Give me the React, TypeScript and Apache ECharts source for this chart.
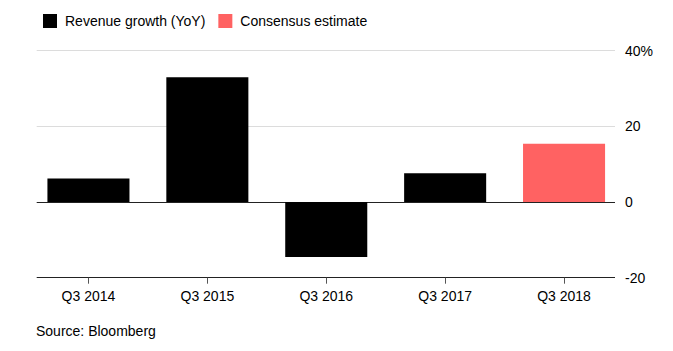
import React, { useEffect, useRef } from "react";
import * as echarts from "echarts";

const categories = ["Q3 2014", "Q3 2015", "Q3 2016", "Q3 2017", "Q3 2018"];
const revenueGrowth: (number | string)[] = [6.2, 33.0, -14.5, 7.6, "-"];
const consensusEstimate: (number | string)[] = ["-", "-", "-", "-", 15.4];
const yTicks = { min: -20, max: 40, interval: 20 };

const FONT = "'Liberation Sans', Arial, Helvetica, sans-serif";

export default function App() {
  const ref = useRef<HTMLDivElement>(null);
  useEffect(() => {
    if (!ref.current) return;
    const chart = echarts.init(ref.current, null, { renderer: "svg" });
    chart.setOption({
      animation: false,
      textStyle: { fontFamily: FONT },
      legend: {
        left: 38,
        top: 9,
        itemWidth: 14,
        itemHeight: 14,
        itemGap: 13,
        icon: "rect",
        textStyle: { fontSize: 14, color: "#000", fontFamily: FONT, padding: [0, 0, 0, 3] },
        data: ["Revenue growth (YoY)", "Consensus estimate"],
      },
      grid: [
        { left: 29, right: 49.5, top: 50.7, bottom: 73.3 },
        { left: 36.7, right: 58, top: 50.7, bottom: 73.3 },
      ],
      xAxis: [
        {
          type: "category",
          gridIndex: 0,
          position: "bottom",
          data: categories,
          axisLine: { show: false, onZero: false },
          axisTick: { show: true, alignWithLabel: true, length: 6, lineStyle: { color: "#555" } },
          axisLabel: { color: "#000", fontSize: 14, margin: 11, fontFamily: FONT },
          z: 5,
        },
        {
          type: "category",
          gridIndex: 1,
          data: categories,
          show: false,
        },
      ],
      yAxis: [
        {
          type: "value",
          gridIndex: 0,
          min: yTicks.min,
          max: yTicks.max,
          interval: yTicks.interval,
          show: false,
          splitLine: { show: false },
        },
        {
          type: "value",
          gridIndex: 1,
          position: "right",
          min: yTicks.min,
          max: yTicks.max,
          interval: yTicks.interval,
          axisLine: { show: false },
          axisTick: { show: false },
          axisLabel: {
            color: "#000",
            fontSize: 14,
            margin: 10,
            fontFamily: FONT,
            formatter: (v: number) => (v === yTicks.max ? v + "%" : String(v)),
          },
          splitLine: {
            show: true,
            lineStyle: { color: ["#222", "#222", "#dcdcdc", "#dcdcdc"], width: 1 },
          },
          z: 0,
        },
      ],
      series: [
        {
          name: "Revenue growth (YoY)",
          type: "bar",
          xAxisIndex: 0,
          yAxisIndex: 0,
          data: revenueGrowth,
          barCategoryGap: "31%",
          barGap: "-100%",
          itemStyle: { color: "#000" },
          z: 3,
        },
        {
          name: "Consensus estimate",
          type: "bar",
          xAxisIndex: 0,
          yAxisIndex: 0,
          data: consensusEstimate,
          barCategoryGap: "31%",
          barGap: "-100%",
          itemStyle: { color: "#ff6262" },
          z: 3,
        },
      ],
      graphic: [
        {
          type: "text",
          left: 36,
          top: 324,
          style: { text: "Source: Bloomberg", fontSize: 14, fill: "#000", fontFamily: FONT },
        },
      ],
    });
    return () => chart.dispose();
  }, []);
  return (
    <div
      ref={ref}
      style={{ position: "fixed", left: 0, top: 0, width: 673, height: 351, background: "#fff" }}
    />
  );
}
